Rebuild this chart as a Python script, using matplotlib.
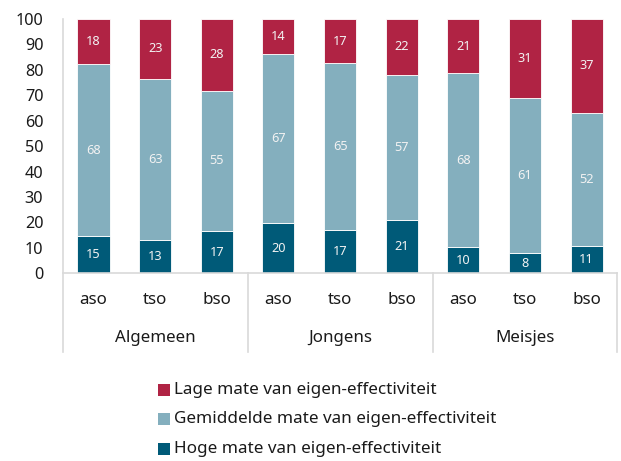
import matplotlib
matplotlib.use("Agg")
import matplotlib.pyplot as plt
from matplotlib.patches import Rectangle
import matplotlib.transforms as mtransforms

groups = ["Algemeen", "Jongens", "Meisjes"]
subcats = ["aso", "tso", "bso"]
series_names = ["Hoge mate van eigen-effectiviteit",
                "Gemiddelde mate van eigen-effectiviteit",
                "Lage mate van eigen-effectiviteit"]
hoge = [14.6, 13.2, 16.6, 19.6, 17.2, 21.0, 10.3, 7.9, 10.7]
gemiddelde = [67.6, 63.4, 55.2, 66.6, 65.4, 57.0, 68.4, 61.0, 52.4]
lage = [17.8, 23.4, 28.2, 13.8, 17.4, 22.0, 21.3, 31.1, 36.9]
hoge_lbl = [15, 13, 17, 20, 17, 21, 10, 8, 11]
gem_lbl = [68, 63, 55, 67, 65, 57, 68, 61, 52]
lage_lbl = [18, 23, 28, 14, 17, 22, 21, 31, 37]
yticks = [0, 10, 20, 30, 40, 50, 60, 70, 80, 90, 100]

colors = ["#005A78", "#84AFBE", "#B02344"]
FONT = "Noto Sans"
plt.rcParams['font.family'] = [FONT, 'DejaVu Sans']

W, H = 621, 461
fig = plt.figure(figsize=(W / 100, H / 100), dpi=100)
ax = fig.add_axes([62.7 / W, 1 - 273.3 / H, (617.5 - 62.7) / W, (273.3 - 19) / H])

x = list(range(len(hoge)))
bw = 0.52
bottoms = [0] * len(x)
for vals, lbls, col in zip([hoge, gemiddelde, lage], [hoge_lbl, gem_lbl, lage_lbl], colors):
    ax.bar(x, vals, bw, bottom=bottoms, color=col, edgecolor="#ffffff", linewidth=0.6)
    for xi, v, b, l in zip(x, vals, bottoms, lbls):
        ax.text(xi, b + v / 2, str(l), ha="center", va="center", color="#f2f2f2", fontsize=9.2)
    bottoms = [b + v for b, v in zip(bottoms, vals)]

ax.set_xlim(-0.5, len(x) - 0.5)
ax.set_ylim(0, 100)
ax.set_yticks(yticks)
ax.set_yticklabels([str(t) for t in yticks], fontsize=11.7, color="#1a1a1a")
ax.tick_params(axis="y", length=0, pad=14)
ax.set_xticks([])
for s in ["top", "right", "bottom", "left"]:
    ax.spines[s].set_visible(False)

trans = mtransforms.blended_transform_factory(ax.transData, ax.transAxes)
lc = "#d9d9d9"
ybot = (273.3 - 352) / (273.3 - 19)
ax.plot([-0.5, len(x) - 0.5], [0, 0], color=lc, lw=1.2, transform=trans, clip_on=False)
ax.plot([-0.5, -0.5], [ybot, 1.0], color=lc, lw=1.2, transform=trans, clip_on=False)
for g in range(1, len(groups) + 1):
    xs = g * len(subcats) - 0.5
    ax.plot([xs, xs], [ybot, 0], color=lc, lw=1.2, transform=trans, clip_on=False)

ysub = (273.3 - 300) / (273.3 - 19)
ygrp = (273.3 - 338) / (273.3 - 19)
for i in x:
    ax.text(i, ysub, subcats[i % len(subcats)], ha="center", va="center",
            fontsize=12.2, color="#1a1a1a", transform=trans)
for g, name in enumerate(groups):
    ax.text(g * len(subcats) + 1, ygrp, name, ha="center", va="center",
            fontsize=12.2, color="#1a1a1a", transform=trans)

# legend (top to bottom: Lage, Gemiddelde, Hoge)
leg_order = [2, 1, 0]
row_y = [390, 419, 448.5]
for k, yc in zip(leg_order, row_y):
    fig.patches.append(Rectangle((158 / W, 1 - (yc + 6) / H), 12 / W, 12 / H,
                                 transform=fig.transFigure, facecolor=colors[k],
                                 edgecolor="none"))
    fig.text(174 / W, 1 - yc / H, series_names[k], ha="left", va="center",
             fontsize=12.3, color="#1a1a1a")

fig.savefig("out.png", dpi=100)
